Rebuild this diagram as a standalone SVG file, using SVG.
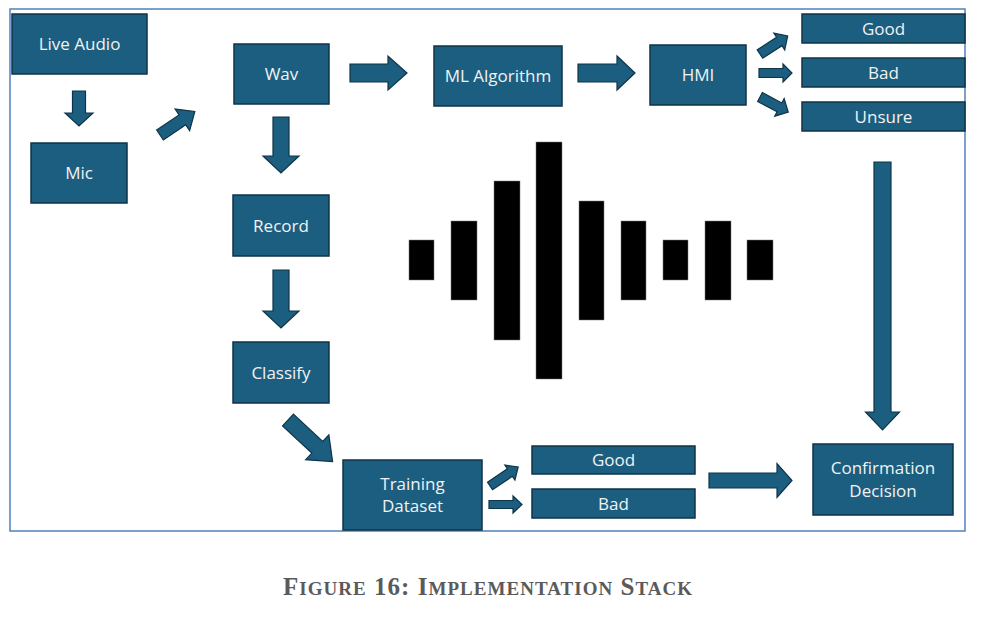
<svg xmlns="http://www.w3.org/2000/svg" width="988" height="630" viewBox="0 0 988 630">
<defs>
<style>
.box{fill:#1b5e80;stroke:#0f3447;stroke-width:1.5}
.lbl{font-family:"Open Sans","Liberation Sans",sans-serif;font-size:17px;fill:#f2f2f2;text-anchor:middle}
.arr{fill:#1b5e80;stroke:#0f3447;stroke-width:1.2;stroke-linejoin:miter}
.bar{fill:#000;stroke:#777;stroke-width:0.5}
.cap{font-family:"Liberation Serif","DejaVu Serif",serif;font-weight:bold;fill:#5a5a5a}
</style>
</defs>
<rect width="988" height="630" fill="#fff"/>
<rect x="10" y="9" width="955" height="522" fill="none" stroke="#4f81bd" stroke-width="1.5"/>

<g id="waveform">
<rect class="bar" x="409" y="240" width="25" height="40"/>
<rect class="bar" x="451" y="221" width="26" height="79"/>
<rect class="bar" x="494" y="181" width="26" height="159"/>
<rect class="bar" x="536" y="142" width="26" height="237"/>
<rect class="bar" x="579" y="201" width="25" height="119"/>
<rect class="bar" x="621" y="221" width="25" height="79"/>
<rect class="bar" x="663" y="240" width="25" height="40"/>
<rect class="bar" x="705" y="221" width="26" height="79"/>
<rect class="bar" x="747" y="240" width="26" height="40"/>
</g>

<g id="connectors">
<polygon class="arr" transform="translate(79,91) rotate(90)" points="0,-6.5 22,-6.5 22,-14 35,0 22,14 22,6.5 0,6.5"/>
<polygon class="arr" transform="translate(160,135) rotate(-34)" points="0,-6 27,-6 27,-13 42,0 27,13 27,6 0,6"/>
<polygon class="arr" transform="translate(281,117) rotate(90)" points="0,-8 39,-8 39,-18 56,0 39,18 39,8 0,8"/>
<polygon class="arr" transform="translate(281,270) rotate(90)" points="0,-8 41,-8 41,-18 58,0 41,18 41,8 0,8"/>
<polygon class="arr" transform="translate(288,420) rotate(43)" points="0,-8 40,-8 40,-17 61,0 40,17 40,8 0,8"/>
<polygon class="arr" transform="translate(350,73) rotate(0)" points="0,-9 38,-9 38,-17 57,0 38,17 38,9 0,9"/>
<polygon class="arr" transform="translate(578,73) rotate(0)" points="0,-9 39,-9 39,-17 57,0 39,17 39,9 0,9"/>
<polygon class="arr" transform="translate(760,54) rotate(-33)" points="0,-5 23,-5 23,-10 33,0 23,10 23,5 0,5"/>
<polygon class="arr" transform="translate(759,73) rotate(0)" points="0,-4.5 24,-4.5 24,-9 33,0 24,9 24,4.5 0,4.5"/>
<polygon class="arr" transform="translate(760,97) rotate(28)" points="0,-5 22,-5 22,-10 32,0 22,10 22,5 0,5"/>
<polygon class="arr" transform="translate(882.5,162) rotate(90)" points="0,-8.5 250,-8.5 250,-17 268,0 250,17 250,8.5 0,8.5"/>
<polygon class="arr" transform="translate(490,486) rotate(-34)" points="0,-4.5 24,-4.5 24,-9 34,0 24,9 24,4.5 0,4.5"/>
<polygon class="arr" transform="translate(489,504.5) rotate(0)" points="0,-4 24,-4 24,-8.5 33,0 24,8.5 24,4 0,4"/>
<polygon class="arr" transform="translate(709,480.5) rotate(0)" points="0,-7.5 68,-7.5 68,-17 83,0 68,17 68,7.5 0,7.5"/>
</g>

<g id="live-audio"><rect class="box" x="12" y="14" width="135" height="60"/><text class="lbl" x="79.5" y="50">Live Audio</text></g>
<g id="mic"><rect class="box" x="31" y="143" width="96" height="60"/><text class="lbl" x="79" y="179">Mic</text></g>
<g id="wav"><rect class="box" x="234" y="44" width="95" height="60"/><text class="lbl" x="281.5" y="80">Wav</text></g>
<g id="ml-algorithm"><rect class="box" x="434" y="46" width="128" height="60"/><text class="lbl" x="498" y="82">ML Algorithm</text></g>
<g id="hmi"><rect class="box" x="650" y="45" width="96" height="60"/><text class="lbl" x="698" y="81">HMI</text></g>
<g id="good-hmi"><rect class="box" x="802" y="14" width="163" height="29"/><text class="lbl" x="883.5" y="34.5">Good</text></g>
<g id="bad-hmi"><rect class="box" x="802" y="58" width="163" height="29"/><text class="lbl" x="883.5" y="78.5">Bad</text></g>
<g id="unsure"><rect class="box" x="802" y="102" width="163" height="29"/><text class="lbl" x="883.5" y="122.5">Unsure</text></g>
<g id="record"><rect class="box" x="233" y="195" width="96" height="61"/><text class="lbl" x="281" y="231.5">Record</text></g>
<g id="classify"><rect class="box" x="233" y="342" width="96" height="61"/><text class="lbl" x="281" y="378.5">Classify</text></g>
<g id="training-dataset"><rect class="box" x="343" y="460" width="139" height="70"/><text class="lbl" x="412.5" y="490">Training</text><text class="lbl" x="412.5" y="512">Dataset</text></g>
<g id="good-train"><rect class="box" x="532" y="446" width="163" height="28"/><text class="lbl" x="613.5" y="466">Good</text></g>
<g id="bad-train"><rect class="box" x="532" y="489" width="163" height="29"/><text class="lbl" x="613.5" y="509.5">Bad</text></g>
<g id="confirmation-decision"><rect class="box" x="813" y="444" width="140" height="71"/><text class="lbl" x="883" y="474">Confirmation</text><text class="lbl" x="883" y="497">Decision</text></g>

<text class="cap" x="283" y="595" textLength="409" lengthAdjust="spacing"><tspan font-size="25">F</tspan><tspan font-size="19">IGURE</tspan><tspan font-size="25"> 16: I</tspan><tspan font-size="19">MPLEMENTATION</tspan><tspan font-size="25"> S</tspan><tspan font-size="19">TACK</tspan></text>
</svg>
